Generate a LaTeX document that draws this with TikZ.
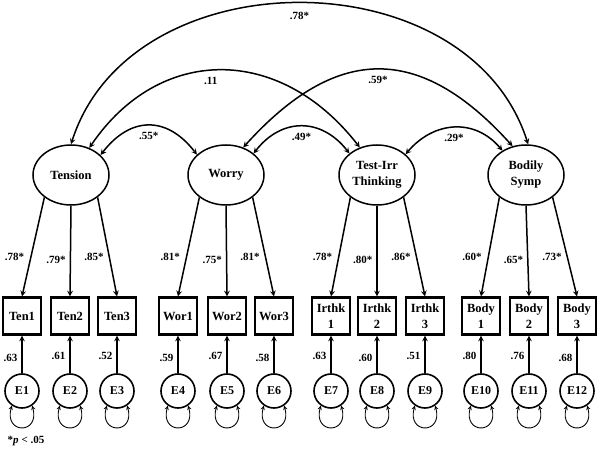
\documentclass[tikz,border=0pt]{standalone}
\usepackage{fontspec}
\setmainfont{Liberation Serif}
\usetikzlibrary{shapes.geometric}

\begin{document}
\begin{tikzpicture}
[x=1pt,y=-1pt,line width=1.5pt,>=stealth,%
  every node/.style={font=\bfseries},%
  latent/.style={shape=ellipse,draw,line width=1.5pt,minimum width=76pt,minimum height=60pt,
    inner sep=0pt,align=center,font=\bfseries\fontsize{12.5}{16}\selectfont},%
  obs/.style={shape=rectangle,draw,line width=2.2pt,minimum width=38pt,minimum height=37pt,
    inner sep=0pt,align=center,font=\bfseries\fontsize{12.5}{16}\selectfont},%
  err/.style={shape=circle,draw,line width=1.6pt,minimum size=34pt,inner sep=0pt,
    font=\bfseries\fontsize{12}{13}\selectfont},%
  lbl/.style={inner sep=1pt,font=\bfseries\fontsize{11}{12}\selectfont},%
  loop/.style={<->,line width=0.9pt}]
\useasboundingbox (0,0) rectangle (600,457);

% latent factors
\node[latent] (tension) at (71,175) {Tension};
\node[latent] (worry) at (226,175) {Worry};
\node[latent] (tirr) at (377,175) {Test-Irr\\Thinking};
\node[latent] (bodily) at (526,175) {Bodily\\Symp};

% indicators
\node[obs] (ten1) at (22,316) {Ten1};
\node[obs] (ten2) at (70,316) {Ten2};
\node[obs] (ten3) at (117,316) {Ten3};
\node[obs] (wor1) at (178,316) {Wor1};
\node[obs] (wor2) at (227,316) {Wor2};
\node[obs] (wor3) at (274,316) {Wor3};
\node[obs] (irt1) at (331,316) {Irthk\\1};
\node[obs] (irt2) at (377,316) {Irthk\\2};
\node[obs] (irt3) at (425,316) {Irthk\\3};
\node[obs] (bod1) at (481,316) {Body\\1};
\node[obs] (bod2) at (529,316) {Body\\2};
\node[obs] (bod3) at (577,316) {Body\\3};

% errors
\node[err] (e1) at (22,391) {E1};
\node[err] (e2) at (70,391) {E2};
\node[err] (e3) at (117,391) {E3};
\node[err] (e4) at (178,391) {E4};
\node[err] (e5) at (227,391) {E5};
\node[err] (e6) at (274,391) {E6};
\node[err] (e7) at (331,391) {E7};
\node[err] (e8) at (377,391) {E8};
\node[err] (e9) at (425,391) {E9};
\node[err] (e10) at (481,391) {E10};
\node[err] (e11) at (529,391) {E11};
\node[err] (e12) at (577,391) {E12};

% loadings
\draw[->] (tension.220) -- node[lbl,left=5pt,pos=0.6] {.78*} (ten1.north);
\draw[->] (tension.south) -- node[lbl,left=3pt,pos=0.6] {.79*} (ten2.north);
\draw[->] (tension.320) -- node[lbl,left=4pt,pos=0.6] {.85*} (ten3.north);
\draw[->] (worry.220) -- node[lbl,left=5pt,pos=0.6] {.81*} (wor1.north);
\draw[->] (worry.south) -- node[lbl,left=3pt,pos=0.6] {.75*} (wor2.north);
\draw[->] (worry.320) -- node[lbl,left=4pt,pos=0.6] {.81*} (wor3.north);
\draw[->] (tirr.220) -- node[lbl,left=5pt,pos=0.6] {.78*} (irt1.north);
\draw[->] (tirr.south) -- node[lbl,left=3pt,pos=0.6] {.80*} (irt2.north);
\draw[->] (tirr.320) -- node[lbl,left=4pt,pos=0.6] {.86*} (irt3.north);
\draw[->] (bodily.220) -- node[lbl,left=5pt,pos=0.6] {.60*} (bod1.north);
\draw[->] (bodily.south) -- node[lbl,left=3pt,pos=0.6] {.65*} (bod2.north);
\draw[->] (bodily.320) -- node[lbl,left=4pt,pos=0.6] {.73*} (bod3.north);

% error paths
\draw[->] (e1) -- node[lbl,left=3pt,pos=0.4] {.63} (ten1);
\draw[->] (e2) -- node[lbl,left=3pt,pos=0.45] {.61} (ten2);
\draw[->] (e3) -- node[lbl,left=3pt,pos=0.45] {.52} (ten3);
\draw[->] (e4) -- node[lbl,left=3pt,pos=0.4] {.59} (wor1);
\draw[->] (e5) -- node[lbl,left=3pt,pos=0.45] {.67} (wor2);
\draw[->] (e6) -- node[lbl,left=3pt,pos=0.4] {.58} (wor3);
\draw[->] (e7) -- node[lbl,left=3pt,pos=0.45] {.63} (irt1);
\draw[->] (e8) -- node[lbl,left=3pt,pos=0.4] {.60} (irt2);
\draw[->] (e9) -- node[lbl,left=3pt,pos=0.45] {.51} (irt3);
\draw[->] (e10) -- node[lbl,left=3pt,pos=0.45] {.80} (bod1);
\draw[->] (e11) -- node[lbl,left=3pt,pos=0.45] {.76} (bod2);
\draw[->] (e12) -- node[lbl,left=3pt,pos=0.4] {.68} (bod3);

% error variances
\draw[loop] (e1.-125) .. controls +(-105:30pt) and +(-75:30pt) .. (e1.-55);
\draw[loop] (e2.-125) .. controls +(-105:30pt) and +(-75:30pt) .. (e2.-55);
\draw[loop] (e3.-125) .. controls +(-105:30pt) and +(-75:30pt) .. (e3.-55);
\draw[loop] (e4.-125) .. controls +(-105:30pt) and +(-75:30pt) .. (e4.-55);
\draw[loop] (e5.-125) .. controls +(-105:30pt) and +(-75:30pt) .. (e5.-55);
\draw[loop] (e6.-125) .. controls +(-105:30pt) and +(-75:30pt) .. (e6.-55);
\draw[loop] (e7.-125) .. controls +(-105:30pt) and +(-75:30pt) .. (e7.-55);
\draw[loop] (e8.-125) .. controls +(-105:30pt) and +(-75:30pt) .. (e8.-55);
\draw[loop] (e9.-125) .. controls +(-105:30pt) and +(-75:30pt) .. (e9.-55);
\draw[loop] (e10.-125) .. controls +(-105:30pt) and +(-75:30pt) .. (e10.-55);
\draw[loop] (e11.-125) .. controls +(-105:30pt) and +(-75:30pt) .. (e11.-55);
\draw[loop] (e12.-125) .. controls +(-105:30pt) and +(-75:30pt) .. (e12.-55);

% factor correlations
\draw[<->] (tension.90) .. controls +(60,-188) and +(-60,-188) .. node[lbl,below=7pt] {.78*} (bodily.86);
\draw[<->] (tension.56) .. controls +(70,-103) and +(-80,-103) .. node[lbl,below=5pt,xshift=-10pt] {.11} (tirr.122);
\draw[<->] (worry.58) .. controls +(93,-103) and +(-93,-103) .. node[lbl,below=5pt] {.59*} (bodily.115);
\draw[<->] (tension.34) .. controls +(30,-39) and +(-30,-39) .. node[lbl,below=5pt] {.55*} (worry.145);
\draw[<->] (worry.38) .. controls +(28,-36) and +(-28,-36) .. node[lbl,below=5pt] {.49*} (tirr.142);
\draw[<->] (tirr.36) .. controls +(28,-33) and +(-28,-33) .. node[lbl,below=5pt] {.29*} (bodily.134);

\node[lbl,anchor=west] (note) at (6,441) {*\textit{p} < .05};
\end{tikzpicture}
\end{document}
